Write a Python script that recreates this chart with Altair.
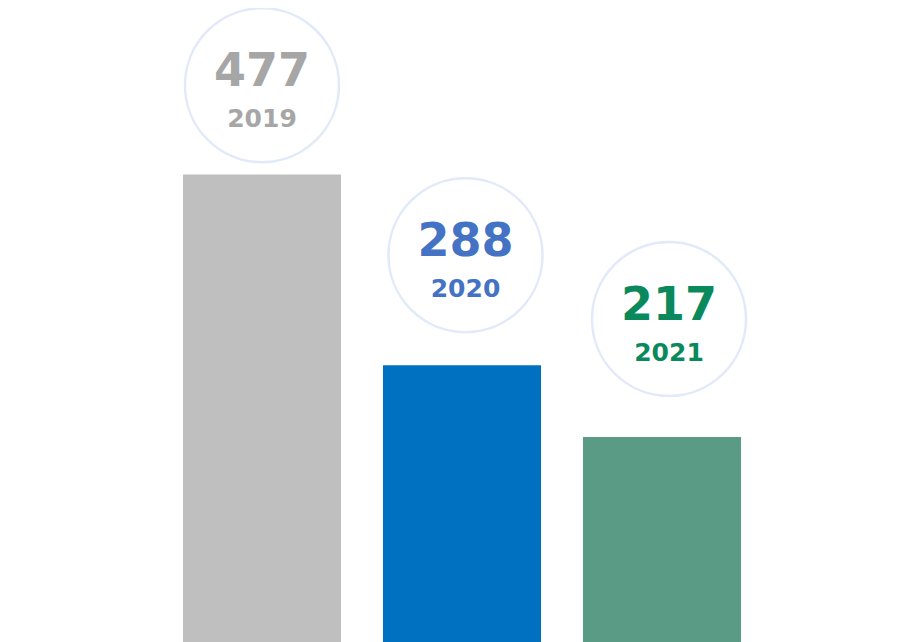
import altair as alt
import pandas as pd

years = ["2019", "2020", "2021"]
values = [477, 288, 217]
bar_colors = ["#bfbfbf", "#0070c0", "#5a9b85"]
text_colors = ["#a6a6a6", "#4472c4", "#0a8a5c"]

df = pd.DataFrame({"year": years, "value": values})

x_bar = alt.X("year:N", sort=years, axis=None,
              scale=alt.Scale(paddingInner=0.21, paddingOuter=0.105))
x_lab = alt.X("year:N", sort=years, axis=None,
              scale=alt.Scale(type="point", range=[100, 507], padding=0))
y_scale = alt.Scale(domain=[0, 640], nice=False, zero=True)

base = alt.Chart(df).transform_calculate(
    label_y="140.5 + 0.891 * datum.value"
)

bars = base.mark_bar().encode(
    x=x_bar,
    y=alt.Y("value:Q", scale=y_scale, axis=None),
    color=alt.Color("year:N", scale=alt.Scale(domain=years, range=bar_colors), legend=None),
)

circles = base.mark_circle(
    size=23716, color="white", opacity=1, stroke="#e2eafa", strokeWidth=2.5
).encode(
    x=x_lab,
    y=alt.Y("label_y:Q", scale=y_scale, axis=None),
)

nums = base.mark_text(
    font="DejaVu Sans", fontWeight="bold", fontSize=46, baseline="alphabetic", dy=1
).encode(
    x=x_lab,
    y=alt.Y("label_y:Q", scale=y_scale, axis=None),
    text=alt.Text("value:Q"),
    color=alt.Color("year:N", scale=alt.Scale(domain=years, range=text_colors), legend=None),
)

yrs = base.mark_text(
    font="DejaVu Sans", fontWeight="bold", fontSize=25, baseline="alphabetic", dy=42
).encode(
    x=x_lab,
    y=alt.Y("label_y:Q", scale=y_scale, axis=None),
    text=alt.Text("year:N"),
    color=alt.Color("year:N", scale=alt.Scale(domain=years, range=text_colors), legend=None),
)

labels = alt.layer(circles, nums, yrs).resolve_scale(color="independent")

chart = alt.layer(bars, labels).resolve_scale(
    color="independent", x="independent"
).properties(
    width=600,
    height=646,
    autosize=alt.AutoSizeParams(type="none"),
    padding={"left": 154, "top": 2, "right": 0, "bottom": 0},
).configure_view(stroke=None)

chart.save("out.html", embed_options={"renderer": "svg", "actions": False})
